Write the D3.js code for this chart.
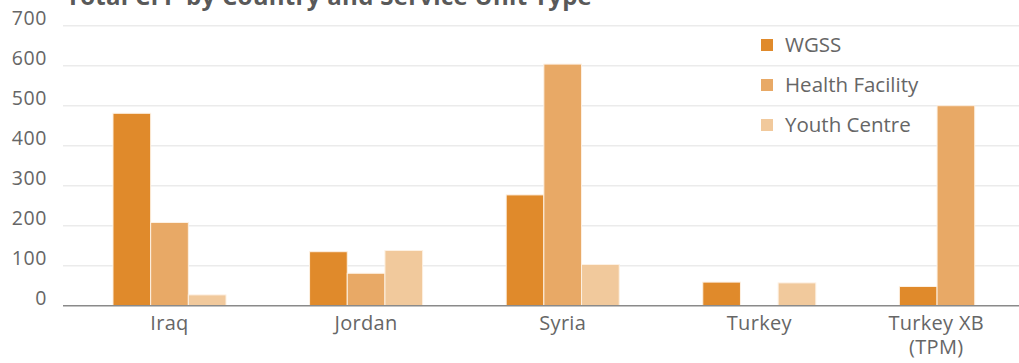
<!DOCTYPE html>
<html>
<head>
<meta charset="utf-8">
<script src="https://cdn.jsdelivr.net/npm/d3@7"></script>
<style>
  html, body { margin: 0; padding: 0; background: #fff; }
  svg { display: block; font-family: "Open Sans", sans-serif; }
</style>
</head>
<body>
<svg id="chart" width="1019" height="363"></svg>
<script>
// Service units counted per country
const countries = ["Iraq", "Jordan", "Syria", "Turkey", "Turkey XB (TPM)"];
const seriesNames = ["WGSS", "Health Facility", "Youth Centre"];
const wgss = [481, 135, 277, 59, 48];
const healthFacility = [208, 81, 604, 0, 500];
const youthCentre = [27, 138, 103, 57, 0];
const yTicks = [0, 100, 200, 300, 400, 500, 600, 700];
const colors = ["#e08a2b", "#e8a966", "#f1c99c"];

const seriesValues = [wgss, healthFacility, youthCentre];
const rows = countries.map((c, i) => ({
  country: c,
  values: seriesNames.map((s, j) => ({ series: s, value: seriesValues[j][i] }))
}));

const svg = d3.select("#chart");
const W = 1019;
const plotLeft = 63, plotRight = W;
const yTop = 25.7, yBottom = 305.7;
const textColor = "#666";

const y = d3.scaleLinear().domain([0, 700]).range([yBottom, yTop]);

// Category bands run past the right edge of the drawing area
const step = 196.6;
const x0 = d3.scaleBand()
  .domain(countries)
  .range([71.2, 71.2 + step * countries.length])
  .paddingInner(0.425)
  .paddingOuter(0.2125);
const x1 = d3.scaleBand()
  .domain(seriesNames)
  .range([0, x0.bandwidth()]);
const color = d3.scaleOrdinal().domain(seriesNames).range(colors);

// Gridlines
svg.append("g")
  .selectAll("line")
  .data(yTicks.filter(t => t > 0))
  .join("line")
  .attr("x1", plotLeft).attr("x2", plotRight)
  .attr("y1", d => y(d)).attr("y2", d => y(d))
  .attr("stroke", "#ebebeb")
  .attr("stroke-width", 1.5);

// Y axis labels
const yAxis = svg.append("g")
  .attr("transform", `translate(${plotLeft},0)`)
  .call(d3.axisLeft(y).tickValues(yTicks).tickSize(0).tickPadding(16));
yAxis.select(".domain").remove();
yAxis.selectAll("text")
  .attr("font-size", 19.5)
  .attr("font-family", "Open Sans, sans-serif")
  .attr("font-weight", 400)
  .attr("letter-spacing", 0.6)
  .attr("fill", textColor)
  .attr("dy", "-0.05em");

// Bars
svg.append("g")
  .selectAll("g")
  .data(rows)
  .join("g")
  .attr("transform", d => `translate(${x0(d.country)},0)`)
  .selectAll("rect")
  .data(d => d.values.filter(v => v.value > 0))
  .join("rect")
  .attr("x", d => x1(d.series))
  .attr("width", x1.bandwidth())
  .attr("y", d => y(d.value))
  .attr("height", d => y(0) - y(d.value))
  .attr("fill", d => color(d.series))
  .attr("stroke", "#fdf1e3")
  .attr("stroke-width", 1);

// X axis
const xAxis = svg.append("g")
  .attr("transform", `translate(0,${yBottom})`)
  .call(d3.axisBottom(x0).tickSize(0).tickPadding(0));
xAxis.select(".domain").remove();
svg.append("line")
  .attr("x1", plotLeft).attr("x2", plotRight)
  .attr("y1", yBottom).attr("y2", yBottom)
  .attr("stroke", "#8a8a8a")
  .attr("stroke-width", 1.5);

xAxis.selectAll(".tick text").each(function(d) {
  const t = d3.select(this);
  t.text(null)
    .attr("font-size", 20)
    .attr("font-family", "Open Sans, sans-serif")
    .attr("font-weight", 400)
    .attr("letter-spacing", 0.3)
    .attr("fill", textColor)
    .attr("y", 0)
    .attr("dy", null);
  const m = d.match(/^(.*) (\(.*\))$/);
  const lines = m ? [m[1], m[2]] : [d];
  lines.forEach((ln, i) => {
    t.append("tspan").attr("x", 0).attr("y", 24 + i * 24.5).text(ln);
  });
});
// Keep wrapped labels inside the drawing width
xAxis.selectAll(".tick").each(function(d) {
  const g = d3.select(this);
  const bb = this.getBBox();
  const cx = x0(d) + x0.bandwidth() / 2;
  const right = cx + bb.x + bb.width;
  const limit = W - 35;
  if (right > limit) {
    g.select("text").attr("transform", `translate(${limit - right},0)`);
  }
});

// Legend
const legend = svg.append("g")
  .attr("transform", "translate(761,0)")
  .selectAll("g")
  .data(seriesNames)
  .join("g")
  .attr("transform", (d, i) => `translate(0,${45 + i * 40})`);
legend.append("rect")
  .attr("x", 0).attr("y", -6)
  .attr("width", 12).attr("height", 12)
  .attr("fill", d => color(d));
legend.append("text")
  .attr("x", 24).attr("y", 7)
  .attr("font-size", 20.5)
  .attr("font-weight", 400)
  .attr("fill", textColor)
  .text(d => d);

// Title (top edge sits above the drawing area)
svg.append("text")
  .attr("x", 66).attr("y", 5)
  .attr("font-size", 24)
  .attr("font-weight", 700)
  .attr("letter-spacing", 0.3)
  .attr("fill", "#595959")
  .text("Total CFP by Country and Service Unit Type");
</script>
</body>
</html>
